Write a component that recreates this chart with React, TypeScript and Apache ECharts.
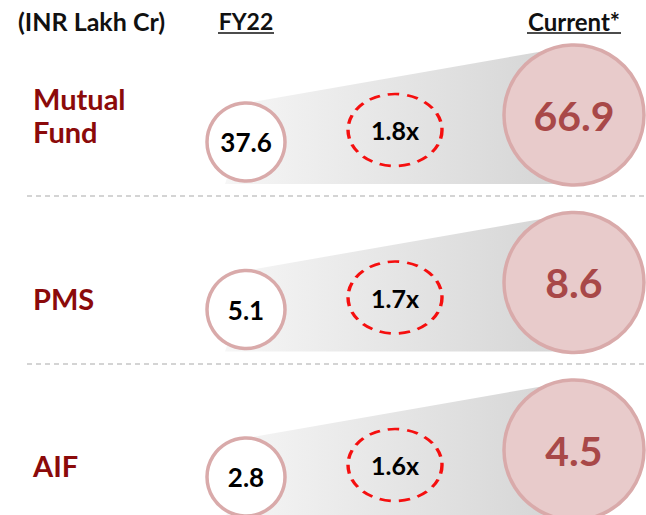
import React, { useEffect, useRef } from "react";
import * as echarts from "echarts";

const categories = ["Mutual Fund", "PMS", "AIF"];
const rowLabels = ["Mutual\nFund", "PMS", "AIF"];
const fy22Values = [37.6, 5.1, 2.8];
const currentValues = [66.9, 8.6, 4.5];
const multiples = ["1.8x", "1.7x", "1.6x"];
const unitLabel = "(INR Lakh Cr)";
const colFy22Title = "FY22";
const colCurrentTitle = "Current*";

const FONT = "Lato, 'Noto Sans', sans-serif";
const X_FY22 = 246;
const X_MULT = 395;
const X_CUR = 574;

export default function App() {
  const ref = useRef<HTMLDivElement>(null);
  useEffect(() => {
    if (!ref.current) return;
    const chart = echarts.init(ref.current, null, { renderer: "svg" });
    const grad = new echarts.graphic.LinearGradient(0, 0, 1, 0, [
      { offset: 0, color: "#f6f6f6" },
      { offset: 1, color: "#d5d5d5" },
    ]);
    const option: any = {
      animation: false,
      backgroundColor: "#ffffff",
      grid: { left: 0, right: 0, top: 115, height: 335 },
      xAxis: { type: "value", min: 0, max: 646, show: false },
      yAxis: {
        type: "category",
        data: categories,
        inverse: true,
        boundaryGap: false,
        axisLine: { show: false },
        axisTick: { show: false },
        splitLine: { show: false },
        axisLabel: {
          inside: true,
          margin: 33,
          align: "left",
          formatter: (v: string) => {
            const i = categories.indexOf(v);
            return i === 0 ? "{a|" + rowLabels[i].split("\n").join("}\n{a|") + "}" : "{b|" + rowLabels[i] + "}";
          },
          rich: {
            a: { fontFamily: FONT, fontWeight: "bold", fontSize: 29, lineHeight: 33, color: "#8b0a0a" },
            b: { fontFamily: FONT, fontWeight: "bold", fontSize: 29, lineHeight: 33, color: "#8b0a0a", padding: [31, 0, 0, 0] },
          },
        },
      },
      graphic: [
        { type: "text", x: 18, y: 21, style: { text: unitLabel, font: `bold 25px ${FONT}`, fill: "#111", textVerticalAlign: "middle" } },
        { type: "text", x: X_FY22, y: 21, style: { text: colFy22Title, font: `bold 23px ${FONT}`, fill: "#111", textAlign: "center", textVerticalAlign: "middle" } },
        { type: "line", shape: { x1: 218, y1: 33, x2: 274, y2: 33 }, style: { stroke: "#111", lineWidth: 1.5 } },
        { type: "text", x: X_CUR, y: 21, style: { text: colCurrentTitle, font: `bold 24px ${FONT}`, fill: "#111", textAlign: "center", textVerticalAlign: "middle" } },
        { type: "line", shape: { x1: 527, y1: 33, x2: 621, y2: 33 }, style: { stroke: "#111", lineWidth: 1.5 } },
        { type: "line", shape: { x1: 27, y1: 196, x2: 646, y2: 196 }, style: { stroke: "#aaaaaa", lineWidth: 1.2, lineDash: [5, 4] } },
        { type: "line", shape: { x1: 27, y1: 364, x2: 646, y2: 364 }, style: { stroke: "#aaaaaa", lineWidth: 1.2, lineDash: [5, 4] } },
      ],
      series: [
        {
          type: "custom",
          silent: true,
          data: categories.map((c, i) => [X_FY22, i]),
          renderItem: (params: any, api: any) => {
            const p = api.coord([api.value(0), api.value(1)]);
            const q = api.coord([X_CUR, api.value(1)]);
            const cy = p[1];
            return {
              type: "polygon",
              shape: {
                points: [
                  [p[0] + 6, cy - 13],
                  [q[0] - 24, cy - 65],
                  [q[0] - 14, cy + 69],
                  [p[0] - 21, cy + 69],
                ],
              },
              style: { fill: grad },
            };
          },
        },
        {
          type: "scatter",
          data: fy22Values.map((v, i) => [X_FY22, i, v]),
          symbol: "circle",
          symbolSize: 78,
          symbolOffset: [0, 27],
          itemStyle: { color: "#ffffff", borderColor: "#d9aaaa", borderWidth: 3.5, opacity: 1 },
          label: {
            show: true,
            position: "inside",
            formatter: (p: any) => String(p.value[2]),
            fontFamily: FONT,
            fontWeight: "bold",
            fontSize: 26,
            color: "#000",
          },
        },
        {
          type: "scatter",
          data: multiples.map((m, i) => [X_MULT, i, m]),
          symbol: "circle",
          symbolSize: [94, 72],
          symbolOffset: [0, 15],
          itemStyle: { color: "rgba(0,0,0,0)", borderColor: "#f50f0f", borderWidth: 3, borderType: [10, 7], opacity: 1 },
          label: {
            show: true,
            position: "inside",
            formatter: (p: any) => String(p.value[2]),
            fontFamily: FONT,
            fontWeight: "bold",
            fontSize: 25,
            color: "#000",
          },
        },
        {
          type: "scatter",
          data: currentValues.map((v, i) => [X_CUR, i, v]),
          symbol: "circle",
          symbolSize: 140,
          itemStyle: { color: "#e8cbcb", borderColor: "#d9aaaa", borderWidth: 3.5, opacity: 1 },
          label: {
            show: true,
            position: "inside",
            formatter: (p: any) => String(p.value[2]),
            fontFamily: FONT,
            fontWeight: "bold",
            fontSize: 41,
            color: "#a84848",
          },
        },
      ],
    };
    chart.setOption(option);
    return () => chart.dispose();
  }, []);
  return <div ref={ref} style={{ position: "fixed", left: 0, top: 0, width: 646, height: 515 }} />;
}
